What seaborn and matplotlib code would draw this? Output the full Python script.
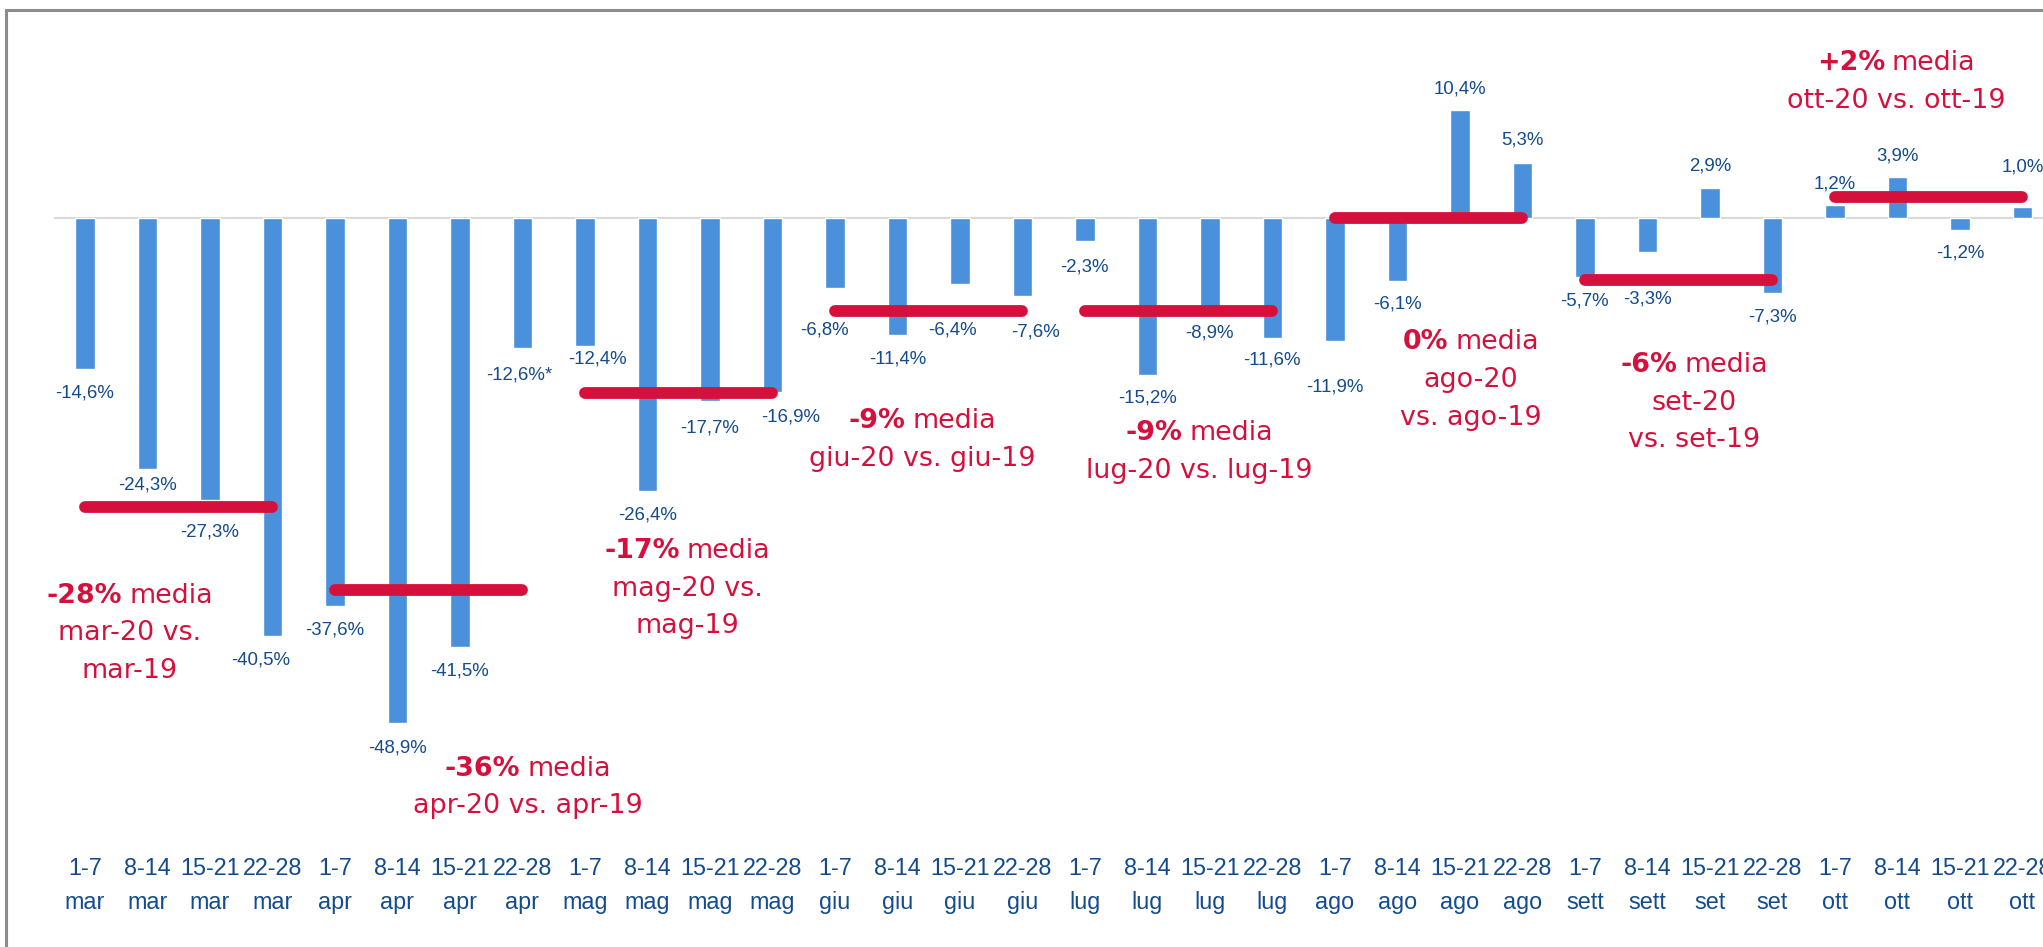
import numpy as np
import pandas as pd
import matplotlib
matplotlib.use("Agg")
import matplotlib.pyplot as plt
import seaborn as sns
from matplotlib.offsetbox import TextArea, HPacker, VPacker, AnnotationBbox
from matplotlib.patches import Rectangle

# weekly change 2020 vs 2019 (%)
weeks = ["1-7", "8-14", "15-21", "22-28"] * 8
months = (["mar"] * 4 + ["apr"] * 4 + ["mag"] * 4 + ["giu"] * 4 + ["lug"] * 4
          + ["ago"] * 4 + ["sett", "sett", "set", "set"] + ["ott"] * 4)
values = [-14.6, -24.3, -27.3, -40.5,
          -37.6, -48.9, -41.5, -12.6,
          -12.4, -26.4, -17.7, -16.9,
          -6.8, -11.4, -6.4, -7.6,
          -2.3, -15.2, -8.9, -11.6,
          -11.9, -6.1, 10.4, 5.3,
          -5.7, -3.3, 2.9, -7.3,
          1.2, 3.9, -1.2, 1.0]
notes = {7: "*"}

# monthly averages
avg_values = [-28, -36, -17, -9, -9, 0, -6, 2]
avg_bold = ["-28%", "-36%", "-17%", "-9%", "-9%", "0%", "-6%", "+2%"]
avg_lines = [["media", "mar-20 vs.", "mar-19"],
             ["media", "apr-20 vs. apr-19"],
             ["media", "mag-20 vs.", "mag-19"],
             ["media", "giu-20 vs. giu-19"],
             ["media", "lug-20 vs. lug-19"],
             ["media", "ago-20", "vs. ago-19"],
             ["media", "set-20", "vs. set-19"],
             ["media", "ott-20 vs. ott-19"]]

# layout: where each average note sits (data coords)
avg_pos = [(0.72, -40.2), (7.09, -55.1), (9.64, -35.9), (13.4, -21.5),
           (17.83, -22.7), (22.18, -15.7), (25.75, -17.9), (28.98, 13.1)]
# layout: value label shift from the bar end, in pixels (down positive)
label_dy = [24, 16, 32, 24, 24, 24.5, 24, 27, 13, 24, 27, 25,
            42, 24, 46, 36, 26, 23, 23, 22, 46, 23, -21, -23,
            24, 47.6, -22, 23.6, -21, -21, 23, -40.6]
label_dx = {3: -12, 7: -3, 8: 13, 11: 18.5, 12: -10, 14: -7, 15: 13}

BAR = "#4A90DA"
RED = "#D6103C"
NAVY = "#134B8E"

sns.set_style("white")
plt.rcParams["font.family"] = ["Liberation Sans", "DejaVu Sans"]

df = pd.DataFrame({"label": [f"{w}\n{m}" for w, m in zip(weeks, months)],
                   "value": values})

W, H = 2043, 947
fig = plt.figure(figsize=(W / 100, H / 100), dpi=100)
ax = fig.add_axes([53.6 / W, (H - 850) / H, 2000 / W, 850 / H])

sns.barplot(data=df, x="label", y="value", color=BAR, saturation=1,
            width=0.31, ax=ax, zorder=3)
ax.axhline(0, color="#D9D9D9", lw=1.5, zorder=2)
ax.set_xlim(-0.5, 31.5)
ax.set_ylim(-61.16, 21.04)
ax.set_xlabel("")
ax.set_ylabel("")
ax.set_yticks([])
for s in ax.spines.values():
    s.set_visible(False)
ax.tick_params(axis="x", length=0, pad=5)
for t in ax.get_xticklabels():
    t.set_fontsize(16.8)
    t.set_color(NAVY)
    t.set_linespacing(1.6)

# value labels
for i, v in enumerate(values):
    txt = f"{v:.1f}".replace(".", ",") + "%" + notes.get(i, "")
    ax.annotate(txt, (i, v), xytext=(label_dx.get(i, 0), -label_dy[i]),
                textcoords="offset pixels", ha="center", va="center",
                fontsize=13.4, color=NAVY, zorder=6, annotation_clip=False)

# monthly average lines and notes
for k, a in enumerate(avg_values):
    ax.plot([4 * k, 4 * k + 3], [a, a], color=RED, lw=8.5,
            solid_capstyle="round", zorder=5)
    tp = dict(color=RED, fontsize=19.4, family="DejaVu Sans")
    head = HPacker(children=[TextArea(avg_bold[k], textprops=dict(tp, weight="bold")),
                             TextArea(avg_lines[k][0], textprops=tp)],
                   pad=0, sep=5, align="baseline")
    rows = [head] + [TextArea(l, textprops=tp) for l in avg_lines[k][1:]]
    box = VPacker(children=rows, align="center", pad=0, sep=8.4)
    ab = AnnotationBbox(box, avg_pos[k], xycoords="data", frameon=False,
                        box_alignment=(0.5, 0.5), pad=0, annotation_clip=False,
                        zorder=7)
    ax.add_artist(ab)

# outer frame
fig.add_artist(Rectangle((6 / W, -0.5), 2, (H - 10) / H + 0.5,
                         transform=fig.transFigure, fill=False,
                         edgecolor="#8C8C8C", lw=2.2))

fig.savefig("out.png", dpi=100)
